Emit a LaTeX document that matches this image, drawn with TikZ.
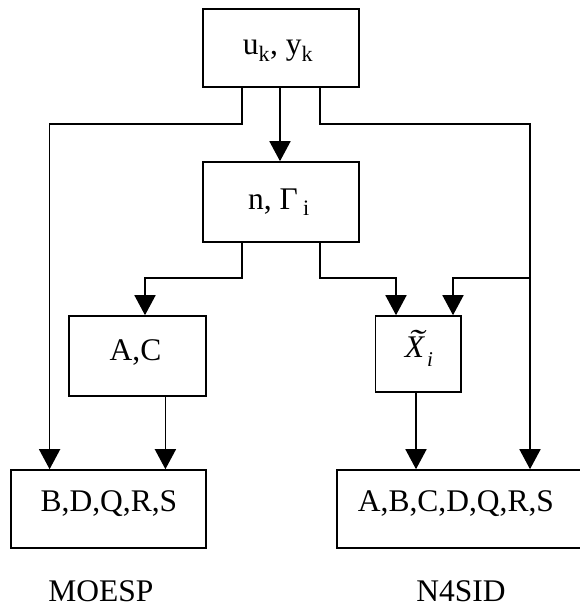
\documentclass[tikz,border=0pt]{standalone}
\usepackage{fontspec}
\setmainfont{Liberation Serif}
\usetikzlibrary{arrows.meta}
\begin{document}
\begin{tikzpicture}[x=1pt,y=-1pt,
  box/.style={draw,line width=1.6pt,inner sep=0pt,rectangle},
  lbl/.style={anchor=base,inner sep=0pt,font=\fontsize{31.5}{36}\selectfont},
  conn/.style={line width=1.6pt,-{Triangle[width=21pt,length=20pt]}}]
\useasboundingbox (0,0) rectangle (580,607);
% boxes
\node[box,minimum width=156pt,minimum height=78pt] (uy) at (281,48) {};
\node[box,minimum width=156pt,minimum height=80pt] (ng) at (281,202) {};
\node[box,minimum width=137pt,minimum height=80pt] (ac) at (137.5,356) {};
\node[box,minimum width=85.5pt,minimum height=76pt] (xt) at (418.25,354) {};
\node[box,minimum width=195pt,minimum height=78pt] (bd) at (108.2,509) {};
\node[box,minimum width=245pt,minimum height=78pt] (ab) at (459.5,509) {};
% texts
\node[lbl] (t1) at (278,54.3) {u\textsubscript{k}, y\textsubscript{k}};
\node[lbl] (t2) at (279,209.3) {n, Γ\,\textsubscript{i}};
\node[lbl] (t3) at (135.5,360.7) {A,C};
\node[lbl] (t4) at (419,357) {\rlap{\hspace{3pt}\raisebox{6pt}{\scalebox{1.5}[1]{\textit{˜}}}}\textit{X}\hspace{2pt}\raisebox{-9pt}{\fontsize{21}{24}\selectfont\textit{i}}};
\node[lbl] (t5) at (109,511.7) {B,D,Q,R,S};
\node[lbl] (t6) at (456,511.7) {A,B,C,D,Q,R,S};
\node[lbl] (t7) at (101,601) {MOESP};
\node[lbl] (t8) at (461,601) {N4SID};
% helper coordinates
\coordinate (xa) at (242,0);
\coordinate (xb) at (280,0);
\coordinate (xc) at (320,0);
\coordinate (xL) at (49.6,0);
\coordinate (xR) at (530,0);
\coordinate (h1) at (0,124);
\coordinate (h2) at (0,278);
\coordinate (xac) at (145,0);
\coordinate (xx1) at (396,0);
\coordinate (xx2) at (453,0);
\coordinate (xacb) at (165.4,0);
\coordinate (xxb) at (416,0);
\coordinate (jr) at (530,278);
% connectors
\draw[conn] (xa |- uy.south) |- (xL |- h1) -- (xL |- bd.north);
\draw[conn] (xb |- uy.south) -- (xb |- ng.north);
\draw[conn] (xc |- uy.south) |- (xR |- h1) -- (xR |- ab.north);
\draw[conn] (jr) -| (xx2 |- xt.north);
\draw[conn] (xa |- ng.south) |- (xac |- h2) -- (xac |- ac.north);
\draw[conn] (xc |- ng.south) |- (xx1 |- h2) -- (xx1 |- xt.north);
\draw[conn] (xacb |- ac.south) -- (xacb |- bd.north);
\draw[conn] (xxb |- xt.south) -- (xxb |- ab.north);
\end{tikzpicture}
\end{document}
